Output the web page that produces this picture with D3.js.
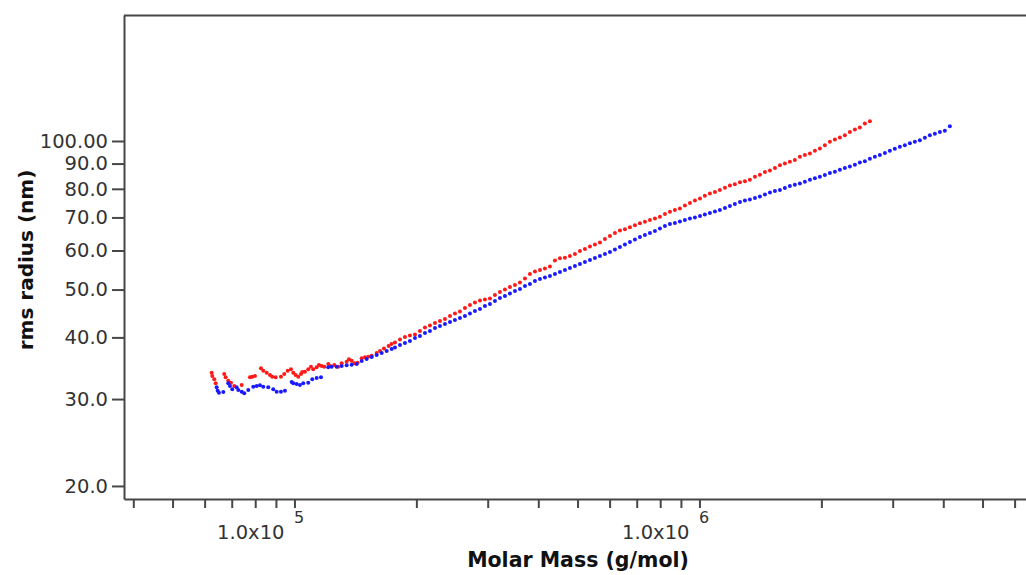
<!DOCTYPE html>
<html>
<head>
<meta charset="utf-8">
<script src="https://cdn.jsdelivr.net/npm/d3@7"></script>
<style>
  html, body { margin: 0; padding: 0; background: #ffffff; }
  svg { display: block; }
</style>
</head>
<body>
<svg id="chart" width="1026" height="575"></svg>
<script>
// rms radius (nm) against molar mass (g/mol), two runs shown as red and blue slices

const redMass = [
  62450, 62670, 63380, 63890, 67090, 67620, 68630, 69700, 71020, 74070,
  77640, 78670, 79890, 82660, 83750, 85380, 86990, 88140, 89860, 92610,
  94370, 96210, 98030, 99320, 100680, 102180, 103770, 104530, 106150, 108160,
  109830, 111280, 113450, 114950, 116740, 118480, 121190, 122370, 125400, 128270,
  130780, 134550, 136320, 138430, 140490, 143230, 146530, 149300, 152130, 155100,
  159580, 162600, 166340, 170800, 173590,
  177100, 182200, 187400, 192800, 198400, 204100, 210000, 216000, 222300, 228700,
  235300, 242100, 249000, 256200, 263600, 271200, 279000, 287100, 295300, 303900,
  312600, 321600, 330900, 340400, 350300, 360400, 370800, 381400, 392400, 403800,
  415400, 427400, 439700, 452400, 465400, 478800, 492600, 506800, 521400, 536500,
  551900, 567900, 584200, 601100, 618400, 636200, 654600, 673400, 692900, 712800,
  733400, 754500, 776300, 798700, 821700, 845400, 869700, 894800, 920600, 947200,
  974500, 1003000, 1031000, 1061000, 1092000, 1123000, 1156000, 1189000, 1223000, 1259000,
  1295000, 1332000, 1371000, 1410000, 1451000, 1493000, 1536000, 1580000, 1625000, 1672000,
  1720000, 1770000, 1821000, 1874000, 1928000, 1983000, 2040000, 2099000, 2160000, 2222000,
  2286000, 2352000, 2420000, 2489000, 2561000, 2635000
];
const redRadius = [
  33.93, 33.41, 32.90, 32.29, 33.72, 33.21, 32.68, 32.38, 31.89, 32.03,
  33.21, 33.30, 33.41, 34.64, 34.25, 33.93, 33.57, 33.30, 33.21, 33.30,
  33.72, 34.25, 34.47, 33.93, 33.57, 33.30, 33.72, 34.04, 34.09, 34.47,
  34.89, 34.47, 34.80, 35.17, 35.01, 34.89, 35.34, 35.01, 35.17, 34.89,
  35.45, 35.71, 36.12, 35.88, 35.45, 35.55, 36.29, 36.46, 36.56, 36.73,
  37.20, 37.54, 37.98, 38.43, 38.79,
  39.06, 39.61, 40.08, 40.36, 40.54, 41.21, 41.88, 42.28, 42.77, 43.18,
  43.58, 44.20, 44.71, 45.13, 45.88, 46.52, 47.07, 47.51, 47.73, 47.95,
  48.74, 49.43, 50.00, 50.59, 51.07, 51.67, 52.64, 53.75, 54.38, 54.76,
  55.14, 55.66, 57.25, 57.84, 58.00, 58.46, 59.01, 59.84, 60.40, 61.11,
  61.68, 62.26, 63.28, 64.18, 65.07, 65.84, 66.21, 66.83, 67.46, 68.09,
  68.59, 69.14, 69.69, 70.22, 71.11, 71.87, 72.44, 73.02, 73.99, 74.91,
  75.79, 76.51, 77.44, 78.24, 78.78, 79.59, 80.38, 81.22, 81.68, 82.48,
  82.92, 83.50, 84.61, 85.47, 86.48, 87.09, 88.11, 89.35, 90.05, 90.73,
  91.46, 92.89, 93.62, 94.35, 95.50, 96.59, 98.08, 99.59, 100.72, 101.66,
  102.76, 104.34, 105.53, 106.52, 108.52, 109.69
];

const blueMass = [
  64250, 64620, 65100, 66720, 68630, 69300, 70210, 71990, 72650, 74070,
  75170, 76900, 79120, 80660, 82190, 83750, 86150, 88650, 90370, 92610,
  94740, 98420, 99320, 101260, 103180, 105130, 108160, 110650, 113450, 116280,
  121190, 123560, 127120, 130780, 134550, 138430, 142420, 146530, 150750, 155100,
  159580, 164180, 168910, 173780,
  177100, 182200, 187400, 192800, 198400, 204100, 210000, 216000, 222300, 228700,
  235300, 242100, 249000, 256200, 263600, 271200, 279000, 287100, 295300, 303900,
  312600, 321600, 330900, 340400, 350300, 360400, 370800, 381400, 392400, 403800,
  415400, 427400, 439700, 452400, 465400, 478800, 492600, 506800, 521400, 536500,
  551900, 567900, 584200, 601100, 618400, 636200, 654600, 673400, 692900, 712800,
  733400, 754500, 776300, 798700, 821700, 845400, 869700, 894800, 920600, 947200,
  974500, 1003000, 1031000, 1061000, 1092000, 1123000, 1156000, 1189000, 1223000, 1259000,
  1295000, 1332000, 1371000, 1410000, 1451000, 1493000, 1536000, 1580000, 1625000, 1672000,
  1720000, 1770000, 1821000, 1874000, 1928000, 1983000, 2040000, 2099000, 2160000, 2222000,
  2286000, 2352000, 2420000, 2489000, 2561000, 2635000, 2711000, 2789000, 2870000, 2952000,
  3037000, 3125000, 3215000, 3308000, 3403000, 3501000, 3602000, 3706000, 3813000, 3923000,
  4036000, 4152000
];
const blueRadius = [
  31.70, 31.20, 30.91, 31.01, 32.29, 31.89, 31.40, 31.70, 31.30, 31.05,
  30.82, 31.30, 31.79, 31.89, 32.00, 31.79, 31.70, 31.40, 31.05, 31.05,
  31.20, 32.49, 32.29, 32.18, 32.03, 32.29, 32.38, 32.90, 33.10, 33.21,
  34.80, 34.89, 34.89, 35.01, 35.12, 35.22, 35.34, 35.83, 36.17, 36.51,
  36.85, 37.20, 37.54, 37.90,
  38.16, 38.61, 38.97, 39.34, 39.89, 40.27, 40.83, 41.21, 41.79, 42.18,
  42.58, 42.98, 43.38, 43.79, 44.20, 44.71, 45.24, 45.66, 46.31, 46.74,
  47.40, 48.07, 48.52, 49.09, 49.66, 50.12, 50.83, 51.31, 52.03, 52.51,
  52.88, 53.26, 53.75, 54.25, 54.76, 55.27, 55.80, 56.32, 56.85, 57.38,
  57.92, 58.46, 59.01, 59.56, 60.26, 60.97, 61.68, 62.40, 63.14, 63.88,
  64.48, 65.07, 65.68, 66.45, 67.24, 67.86, 68.18, 68.66, 69.14, 69.62,
  69.95, 70.45, 70.93, 71.43, 71.94, 72.44, 73.12, 73.81, 74.50, 75.19,
  75.72, 76.15, 76.61, 77.15, 77.87, 78.60, 79.15, 79.52, 80.27, 81.02,
  81.58, 82.03, 82.72, 83.50, 84.09, 84.68, 85.28, 86.08, 86.68, 87.49,
  88.11, 88.73, 89.55, 90.40, 91.03, 92.10, 92.89, 93.62, 94.50, 95.50,
  96.49, 97.40, 98.08, 98.91, 99.69, 100.39, 101.56, 102.76, 103.47, 104.34,
  104.94, 107.17
];

const yTickValues = [20, 30, 40, 50, 60, 70, 80, 90, 100];
const yTickLabels = ["20.0", "30.0", "40.0", "50.0", "60.0", "70.0", "80.0", "90.0", "100.00"];

const xTickValues = [
  40000, 50000, 60000, 70000, 80000, 90000, 100000,
  200000, 300000, 400000, 500000, 600000, 700000, 800000, 900000, 1000000,
  2000000, 3000000, 4000000, 5000000, 6000000
];
const xLabelValues = [100000, 1000000];
const xLabelMantissa = ["1.0x10", "1.0x10"];
const xLabelExponent = ["5", "6"];

const xTitle = "Molar Mass (g/mol)";
const yTitle = "rms radius (nm)";

// ---- layout ----
const plot = { left: 124, right: 1030, top: 15, bottom: 499 };
const axisColor = "#474747";
const labelColor = "#333333";
const labelFont = "'DejaVu Sans', Verdana, sans-serif";

const svg = d3.select("#chart");

const x = d3.scaleLog().domain([37940, 6549000]).range([plot.left, plot.right]);
const y = d3.scaleLog().domain([18.82, 180]).range([plot.bottom, plot.top]);

// top border of the plot frame
svg.append("line")
  .attr("x1", plot.left).attr("x2", plot.right)
  .attr("y1", plot.top + 0.5).attr("y2", plot.top + 0.5)
  .attr("stroke", axisColor).attr("stroke-width", 2);

// y axis
const yAxis = svg.append("g")
  .attr("transform", `translate(${plot.left},0)`)
  .call(d3.axisLeft(y)
    .tickValues(yTickValues)
    .tickFormat((d, i) => yTickLabels[i])
    .tickSize(12)
    .tickSizeOuter(0)
    .tickPadding(4));

// x axis (tick marks only; decade labels are written separately)
const xAxis = svg.append("g")
  .attr("transform", `translate(0,${plot.bottom})`)
  .call(d3.axisBottom(x)
    .tickValues(xTickValues)
    .tickFormat(() => "")
    .tickSize(9)
    .tickSizeOuter(0));

[yAxis, xAxis].forEach(g => {
  g.select(".domain").attr("stroke", axisColor).attr("stroke-width", 2);
  g.selectAll(".tick line").attr("stroke", axisColor).attr("stroke-width", 2);
});

yAxis.selectAll(".tick text")
  .attr("fill", labelColor)
  .style("font-family", labelFont)
  .style("font-size", "19.5px");

// decade labels written as 1.0x10 with a raised exponent
const decade = svg.append("g")
  .style("font-family", labelFont)
  .attr("fill", labelColor);

xLabelValues.forEach((v, i) => {
  const px = x(v);
  decade.append("text")
    .attr("x", px - 10).attr("y", 539)
    .attr("text-anchor", "end")
    .style("font-size", "19.5px")
    .text(xLabelMantissa[i]);
  decade.append("text")
    .attr("x", px - 0.5).attr("y", 523)
    .attr("text-anchor", "start")
    .style("font-size", "16px")
    .text(xLabelExponent[i]);
});

// axis titles
svg.append("text")
  .attr("x", 578).attr("y", 567)
  .attr("text-anchor", "middle")
  .style("font-family", labelFont)
  .style("font-weight", "bold")
  .style("font-size", "20.5px")
  .attr("fill", "#111")
  .text(xTitle);

svg.append("text")
  .attr("transform", "translate(33,260) rotate(-90)")
  .attr("text-anchor", "middle")
  .style("font-family", labelFont)
  .style("font-weight", "bold")
  .style("font-size", "20px")
  .attr("fill", "#111")
  .text(yTitle);

// data slices
const series = [
  { mass: redMass, radius: redRadius, color: "#ff1a1a" },
  { mass: blueMass, radius: blueRadius, color: "#1a1aff" }
];

series.forEach(s => {
  svg.append("g")
    .selectAll("circle")
    .data(d3.zip(s.mass, s.radius))
    .join("circle")
    .attr("cx", d => x(d[0]))
    .attr("cy", d => y(d[1]))
    .attr("r", 2)
    .attr("fill", s.color);
});
</script>
</body>
</html>
